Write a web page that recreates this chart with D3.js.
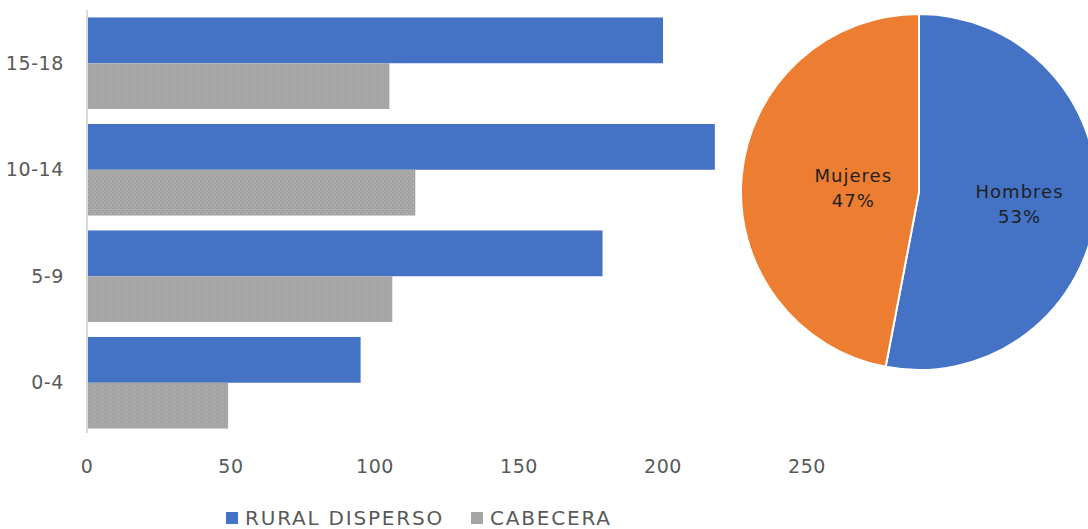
<html>
  <head>
    <style>
      body {
        margin: 0;
        font-family: "DejaVu Sans", sans-serif;
        background: #fff;
      }
      svg {
        display: block;
      }
      .axis-text {
        fill: #595959;
        font-size: 19px;
        letter-spacing: 0.6px;
      }
      .pie-label {
        fill: #1f1f1f;
        font-size: 18px;
        letter-spacing: 1px;
        text-anchor: middle;
      }
    </style>
  </head>
  <body>
    <script src="https://d3js.org/d3.v7.min.js"></script>
    <script>
      const categories = ["15-18", "10-14", "5-9", "0-4"];
      const rural = [200, 218, 179, 95];
      const cabecera = [105, 114, 106, 49];
      const seriesNames = ["RURAL DISPERSO", "CABECERA"];
      const xTicks = [0, 50, 100, 150, 200, 250];

      const pieNames = ["Hombres", "Mujeres"];
      const pieValues = [53, 47];

      const width = 1088,
        height = 529;

      const svg = d3
        .select("body")
        .append("svg")
        .attr("width", width)
        .attr("height", height);

      // textured gray fill for the second series
      const defs = svg.append("defs");
      const pat = defs
        .append("pattern")
        .attr("id", "dots")
        .attr("patternUnits", "userSpaceOnUse")
        .attr("width", 4)
        .attr("height", 4);
      pat.append("rect").attr("width", 4).attr("height", 4).attr("fill", "#a7a7a7");
      pat.append("rect").attr("x", 0).attr("y", 0).attr("width", 1).attr("height", 1).attr("fill", "#969696");
      pat.append("rect").attr("x", 2).attr("y", 2).attr("width", 1).attr("height", 1).attr("fill", "#969696");
      pat.append("rect").attr("x", 1).attr("y", 3).attr("width", 1).attr("height", 1).attr("fill", "#b3b3b3");
      pat.append("rect").attr("x", 3).attr("y", 1).attr("width", 1).attr("height", 1).attr("fill", "#b3b3b3");

      const colors = ["#4472c4", "url(#dots)"];

      // bar chart
      const x = d3.scaleLinear().domain([0, 250]).range([87, 807]);
      const y = d3
        .scaleBand()
        .domain(categories)
        .range([10, 436])
        .paddingInner(0.14)
        .paddingOuter(0.07);
      const sub = d3
        .scaleBand()
        .domain(seriesNames)
        .range([0, y.bandwidth()]);

      const rows = categories.map((c, i) => ({ cat: c, vals: [rural[i], cabecera[i]] }));

      const groups = svg
        .selectAll("g.row")
        .data(rows)
        .join("g")
        .attr("class", "row")
        .attr("transform", (d) => `translate(0,${y(d.cat)})`);

      groups
        .selectAll("rect")
        .data((d) => d.vals.map((v, k) => ({ v, k })))
        .join("rect")
        .attr("x", x(0))
        .attr("y", (d) => sub(seriesNames[d.k]))
        .attr("width", (d) => x(d.v) - x(0))
        .attr("height", sub.bandwidth())
        .attr("fill", (d) => colors[d.k]);

      // vertical axis line
      svg
        .append("line")
        .attr("x1", x(0))
        .attr("x2", x(0))
        .attr("y1", 10)
        .attr("y2", 433)
        .attr("stroke", "#d9d9d9")
        .attr("stroke-width", 2);

      // category labels
      svg
        .selectAll("text.cat")
        .data(categories)
        .join("text")
        .attr("class", "axis-text cat")
        .attr("x", 64)
        .attr("y", (d) => y(d) + y.bandwidth() / 2)
        .attr("dy", "0.35em")
        .attr("text-anchor", "end")
        .text((d) => d);

      // x tick labels
      svg
        .selectAll("text.tick")
        .data(xTicks)
        .join("text")
        .attr("class", "axis-text tick")
        .attr("x", (d) => x(d))
        .attr("y", 466)
        .attr("dy", "0.35em")
        .attr("text-anchor", "middle")
        .text((d) => d);

      // legend
      const legendX = [226, 471];
      const legend = svg
        .selectAll("g.legend")
        .data(seriesNames)
        .join("g")
        .attr("class", "legend")
        .attr("transform", (d, i) => `translate(${legendX[i]},512)`);
      legend
        .append("rect")
        .attr("width", 12)
        .attr("height", 12)
        .attr("fill", (d, i) => (i === 0 ? "#4472c4" : "#a5a5a5"));
      legend
        .append("text")
        .attr("class", "axis-text")
        .attr("x", 19)
        .attr("y", 6)
        .attr("dy", "0.35em")
        .style("font-size", "20px")
        .style("letter-spacing", "1.8px")
        .text((d) => d);

      // pie chart
      const cx = 919,
        cy = 192,
        r = 178;
      const pie = d3.pie().sort(null)(pieValues);
      const arc = d3.arc().innerRadius(0).outerRadius(r);
      const pieColors = ["#4472c4", "#ed7d31"];
      const pg = svg.append("g").attr("transform", `translate(${cx},${cy})`);
      pg.selectAll("path")
        .data(pie)
        .join("path")
        .attr("d", arc)
        .attr("fill", (d, i) => pieColors[i])
        .attr("stroke", "#fff")
        .attr("stroke-width", 2);

      const labelRadius = [101, 66];
      pie.forEach((d, i) => {
        const la = d3.arc().innerRadius(labelRadius[i]).outerRadius(labelRadius[i]);
        const [lx, ly] = la.centroid(d);
        const t = pg
          .append("text")
          .attr("class", "pie-label")
          .attr("x", lx)
          .attr("y", ly);
        t.append("tspan").attr("x", lx).attr("dy", "-0.2em").text(pieNames[i]);
        t.append("tspan").attr("x", lx).attr("dy", "1.4em").text(pieValues[i] + "%");
      });
    </script>
  </body>
</html>
